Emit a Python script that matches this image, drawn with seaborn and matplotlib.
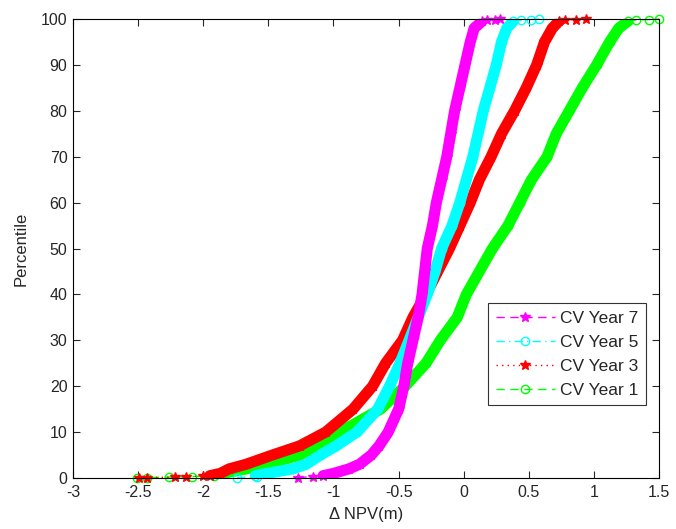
import numpy as np
import pandas as pd
import matplotlib
matplotlib.use('Agg')
import matplotlib.pyplot as plt
import seaborn as sb

# percentile levels (dense body of each curve)
pct = [0.5, 1, 2, 3, 5, 7, 10, 15, 20, 25, 30, 35, 40, 45, 50, 55, 60, 65,
       70, 75, 80, 85, 90, 95, 98, 99.5]

# delta NPV (m) at those percentiles
year7 = [-1.08, -1.0, -0.88, -0.8, -0.71, -0.65, -0.58, -0.5, -0.46, -0.43, -0.39, -0.35, -0.32, -0.30,
         -0.28, -0.24, -0.21, -0.17, -0.13, -0.10, -0.07, -0.03, 0.01, 0.05, 0.08, 0.14]
year5 = [-1.6, -1.51, -1.31, -1.21, -1.1, -0.98, -0.82, -0.66, -0.57, -0.49, -0.42, -0.35, -0.28, -0.22,
         -0.17, -0.09, -0.03, 0.02, 0.07, 0.11, 0.15, 0.2, 0.25, 0.29, 0.33, 0.38]
year3 = [-1.95, -1.87, -1.8, -1.67, -1.47, -1.26, -1.06, -0.85, -0.7, -0.6, -0.47, -0.39, -0.29, -0.2,
         -0.11, -0.03, 0.05, 0.12, 0.21, 0.29, 0.39, 0.48, 0.56, 0.62, 0.68, 0.73]
year1 = [-1.92, -1.85, -1.67, -1.51, -1.26, -1.13, -0.95, -0.64, -0.45, -0.29, -0.18, -0.05, 0.02, 0.12,
         0.22, 0.34, 0.43, 0.52, 0.64, 0.71, 0.81, 0.91, 1.02, 1.12, 1.19, 1.26]

# sparse lower tail points (x, percentile)
low7_x, low7_p = [-1.27, -1.16], [0.1, 0.3]
low5_x, low5_p = [-1.74, -1.59], [0.1, 0.3]
low3_x, low3_p = [-2.49, -2.43, -2.22, -2.13, -2.0], [0.05, 0.1, 0.2, 0.3, 0.4]
low1_x, low1_p = [-2.51, -2.43, -2.26, -2.09], [0.05, 0.1, 0.2, 0.3]

# sparse upper tail points along the 100 line
top7_x, top7_p = [0.18, 0.24, 0.28], [99.8, 99.9, 100]
top5_x, top5_p = [0.44, 0.52, 0.58], [99.8, 99.9, 100]
top3_x, top3_p = [0.78, 0.86, 0.94], [99.8, 99.9, 100]
top1_x, top1_p = [1.32, 1.42, 1.5], [99.8, 99.9, 100]

series = [
    ('CV Year 7', year7, low7_x, low7_p, top7_x, top7_p, '#ff00ff', (0, (6, 4)), '*', 7, 4),
    ('CV Year 5', year5, low5_x, low5_p, top5_x, top5_p, '#00ffff', (0, (6, 3, 1, 3)), 'o', 6, 3),
    ('CV Year 3', year3, low3_x, low3_p, top3_x, top3_p, '#ff0000', (0, (1, 3)), '*', 7, 2),
    ('CV Year 1', year1, low1_x, low1_p, top1_x, top1_p, '#00ff00', (0, (6, 4)), 'o', 6, 1),
]

sb.set_style('ticks')
plt.rcParams['font.family'] = ['Liberation Sans', 'DejaVu Sans']

fig = plt.figure(figsize=(6.76, 5.29), dpi=100)
ax = fig.add_axes([0.108, 0.0964, 0.867, 0.8676])

for name, xs, lx, lp, tx, tp, col, ls, mk, ms, z in series:
    df = pd.DataFrame({'x': lx + xs + tx, 'p': lp + pct + tp})
    # thick band where the markers are packed together
    sb.lineplot(x=xs, y=pct, color=col, lw=8, ax=ax, sort=False, estimator=None,
                solid_capstyle='round', zorder=z, legend=False)
    fc = 'none' if mk == 'o' else col
    sb.lineplot(data=df, x='x', y='p', color=col, lw=1, linestyle=ls, marker=mk,
                markersize=ms, markerfacecolor=fc, markeredgecolor=col, markeredgewidth=1,
                ax=ax, sort=False, estimator=None, label=name, zorder=z + 0.5, clip_on=False)

ax.set_xlim(-3, 1.5)
ax.set_ylim(0, 100)
ax.set_xticks(np.arange(-3, 1.51, 0.5))
ax.set_xticklabels(['-3', '-2.5', '-2', '-1.5', '-1', '-0.5', '0', '0.5', '1', '1.5'])
ax.set_yticks(np.arange(0, 101, 10))
ax.tick_params(direction='in', top=True, right=True, labelsize=11.5, length=5, width=0.8,
               labelcolor='#262626')
ax.tick_params(axis='x', pad=5)
ax.tick_params(axis='y', pad=4)
for s in ax.spines.values():
    s.set_linewidth(0.8)
    s.set_color('black')
    s.set_zorder(10)
ax.set_xlabel('\u0394 NPV(m)', fontsize=12, labelpad=5)
ax.set_ylabel('Percentile', fontsize=12, labelpad=9)

leg = ax.legend(loc='upper left', bbox_to_anchor=(0.708, 0.381), borderaxespad=0,
                fontsize=12.5, frameon=True, fancybox=False, edgecolor='black',
                handlelength=3.4, labelspacing=0.5, borderpad=0.45, handletextpad=0.3)
leg.get_frame().set_linewidth(0.8)
leg.set_zorder(20)

fig.savefig('out.png', dpi=100)
